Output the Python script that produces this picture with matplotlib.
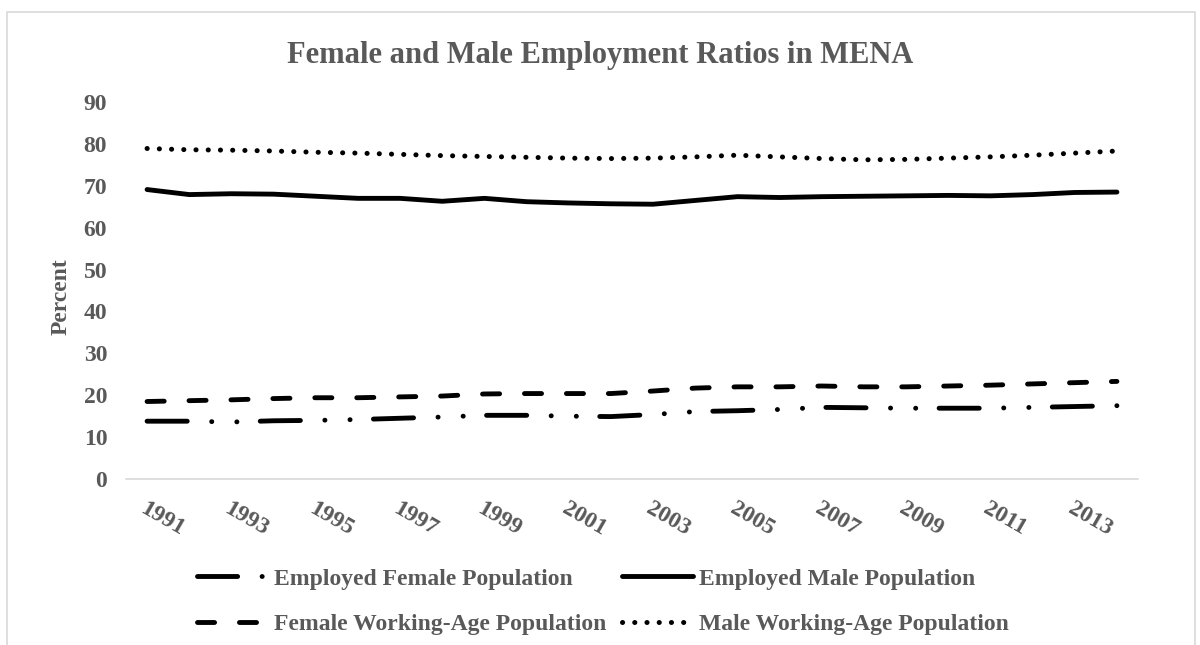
import numpy as np
import matplotlib
matplotlib.use('Agg')
import matplotlib.pyplot as plt
from matplotlib.patches import Rectangle

plt.rcParams['font.family'] = ['Liberation Serif', 'DejaVu Serif']
plt.rcParams['font.weight'] = 'bold'
# dash lengths given in points, not scaled by line width
plt.rcParams['lines.scale_dashes'] = False

years = list(range(1991, 2015))
emp_female = [13.8, 13.8, 13.6, 13.9, 14.0, 14.2, 14.5, 14.8, 15.2, 15.2, 15.0, 14.9,
              15.4, 16.1, 16.3, 16.6, 17.1, 17.0, 16.9, 16.9, 16.9, 17.1, 17.3, 17.5]
emp_male = [69.1, 67.9, 68.1, 68.0, 67.5, 67.0, 67.0, 66.3, 67.0, 66.2, 65.9, 65.7,
            65.6, 66.5, 67.4, 67.2, 67.4, 67.5, 67.6, 67.7, 67.6, 67.9, 68.4, 68.5]
female_wa = [18.5, 18.7, 18.9, 19.2, 19.4, 19.4, 19.6, 19.8, 20.3, 20.4, 20.4, 20.4,
             21.0, 21.7, 22.0, 22.0, 22.2, 22.0, 22.0, 22.2, 22.4, 22.7, 23.0, 23.3]
male_wa = [78.9, 78.6, 78.5, 78.3, 78.0, 77.8, 77.5, 77.2, 77.0, 76.8, 76.6, 76.5,
           76.6, 76.9, 77.3, 76.9, 76.5, 76.2, 76.3, 76.6, 76.9, 77.3, 77.8, 78.3]

GREY = '#595959'
W, H = 1200, 645

fig = plt.figure(figsize=(W / 100, H / 100), dpi=100)
# light frame round the chart area
fig.patches.append(Rectangle((7 / W, -0.02), (1195 - 7) / W, 1.02 - 12 / H,
                             transform=fig.transFigure, fill=False,
                             edgecolor='#d9d9d9', lw=1.2))

ax = fig.add_axes([126 / W, 1 - 479 / H, (1138 - 126) / W, (479 - 102) / H])
x = np.arange(len(years))

common = dict(color='black', lw=3.5, dash_capstyle='round', solid_capstyle='round')
l_ef, = ax.plot(x, emp_female, ls=(0, (28.9, 17.6, 0.1, 18.0, 0.1, 16.8)),
                label='Employed Female Population', **common)
l_em, = ax.plot(x, emp_male, ls='-', label='Employed Male Population', **common)
l_fwa, = ax.plot(x, female_wa, ls=(0, (12.3, 17.9)),
                 label='Female Working-Age Population', **common)
common['lw'] = 3.6
l_mwa, = ax.plot(x, male_wa, ls=(0, (0.1, 8.7)),
                 label='Male Working-Age Population', **common)

ax.set_xlim(-0.5, len(years) - 0.5)
ax.set_ylim(0, 90)
ax.set_yticks(range(0, 91, 10))
ax.set_xticks(x[::2])
ax.set_xticklabels([str(y) for y in years[::2]], rotation=-30, ha='left', va='top',
                   rotation_mode='anchor')
ax.tick_params(axis='both', length=0, labelsize=17, labelcolor=GREY)
ax.tick_params(axis='y', pad=13.5)
ax.tick_params(axis='x', pad=14)
for s in ['top', 'right', 'left']:
    ax.spines[s].set_visible(False)
ax.spines['bottom'].set_color('#d9d9d9')
ax.spines['bottom'].set_linewidth(1.2)

ax.set_ylabel('Percent', fontsize=17, color=GREY, fontweight='bold')
ax.yaxis.set_label_coords((72 - 126) / 1012, (479 - 297) / 377)

fig.text(0.5, 1 - 55 / H, 'Female and Male Employment Ratios in MENA',
         ha='center', va='center', fontsize=22, color=GREY)

fig.legend(handles=[l_ef, l_fwa, l_em, l_mwa], ncol=2, loc='upper left',
           bbox_to_anchor=(197 / W, 1 - 568 / H), frameon=False, fontsize=17,
           handlelength=3.0, handletextpad=0.25, columnspacing=0.69,
           labelspacing=1.03, borderpad=0, borderaxespad=0, labelcolor=GREY)

fig.savefig('out.png', dpi=100)
